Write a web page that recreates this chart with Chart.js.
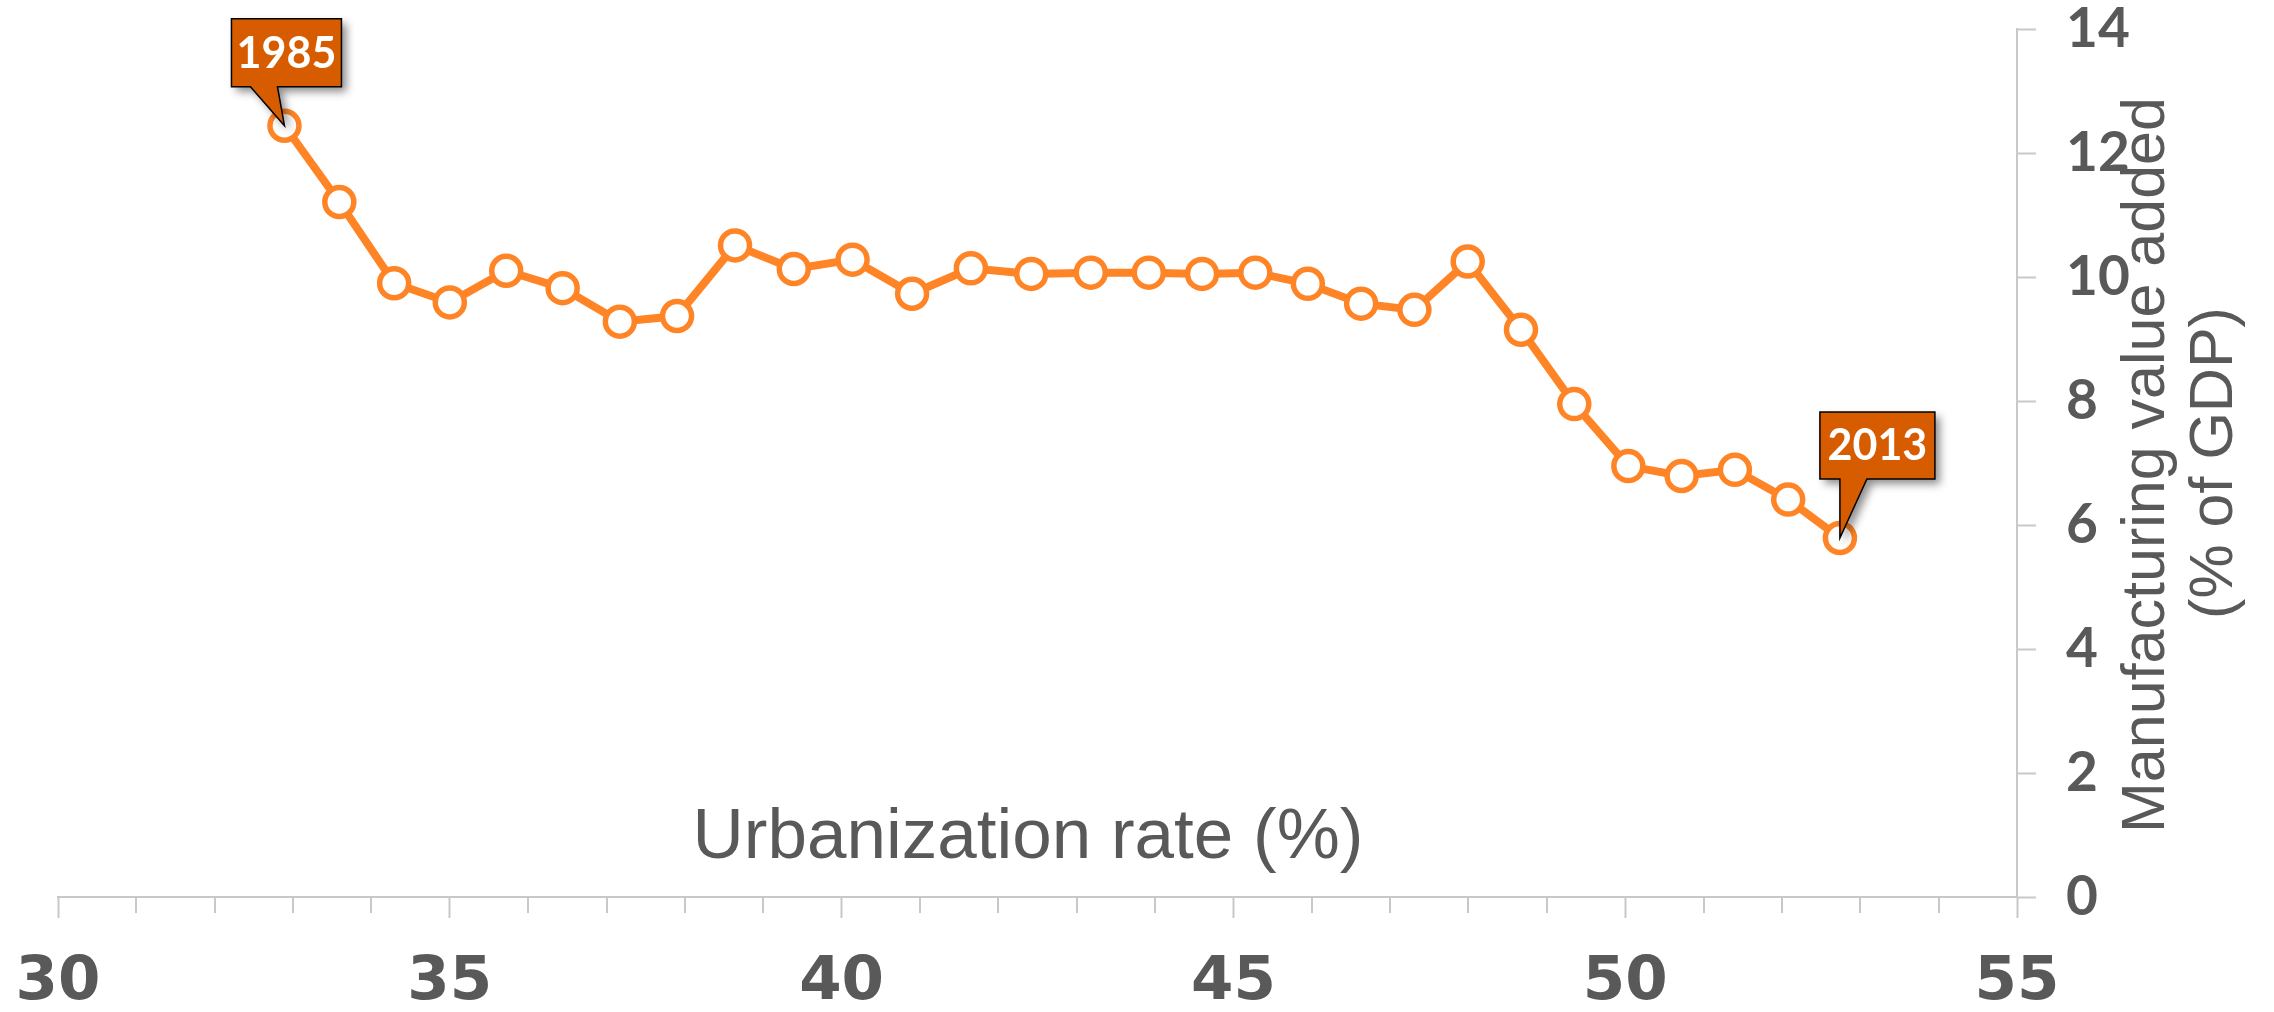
<!DOCTYPE html>
<html>
<head>
<meta charset="utf-8">
<script src="https://cdn.jsdelivr.net/npm/chart.js@4/dist/chart.umd.min.js"></script>
<style>
html,body{margin:0;padding:0;background:#ffffff;overflow:hidden;}
#wrap{width:2274px;height:1012px;position:relative;}
</style>
</head>
<body>
<div id="wrap"><canvas id="c" width="2274" height="1012"></canvas></div>
<script>
// ---- data ----
const years = [1985,1986,1987,1988,1989,1990,1991,1992,1993,1994,1995,1996,1997,1998,1999,2000,2001,2002,2003,2004,2005,2006,2007,2008,2009,2010,2011,2012,2013];
const urbanizationRate = [32.89,33.59,34.29,35.00,35.72,36.44,37.17,37.90,38.64,39.39,40.14,40.90,41.65,42.42,43.18,43.92,44.60,45.28,45.95,46.63,47.31,47.99,48.67,49.35,50.04,50.72,51.40,52.08,52.74];
const manufacturingShare = [12.44,11.21,9.90,9.59,10.10,9.82,9.28,9.37,10.51,10.13,10.28,9.73,10.14,10.05,10.07,10.07,10.05,10.07,9.89,9.57,9.47,10.25,9.15,7.95,6.95,6.79,6.89,6.41,5.79];
const xTickLabels = [30,35,40,45,50,55];
const yTickLabels = [0,2,4,6,8,10,12,14];
const calloutYears = [1985,2013];
const xAxisTitle = 'Urbanization rate (%)';
const yAxisTitle = ['Manufacturing value added','(% of GDP)'];

const TEXT = '#595959';
const AXIS = '#c8c8c8';
const LINE = '#FF8426';
const X_TICK_FONT = '"DejaVu Sans", Lato, sans-serif';
const Y_TICK_FONT = 'Lato, "Open Sans", sans-serif';

const points = urbanizationRate.map((x,i)=>({x:x, y:manufacturingShare[i]}));

// callout box geometry relative to the point (styling)
const calloutStyle = {
  1985: {l:-53, r:57, t:-107, b:-39, tl:-34, tr:-7},
  2013: {l:-20, r:95, t:-126, b:-59, tl:0, tr:27}
};

const decorPlugin = {
  id:'decor',
  afterDraw(chart){
    const ctx = chart.ctx;
    const xs = chart.scales.x, ys = chart.scales.y;
    const ca = chart.chartArea;
    // minor ticks on x axis
    ctx.save();
    ctx.strokeStyle = AXIS; ctx.lineWidth = 2;
    for (let v = xs.min; v <= xs.max; v++) {
      if (xTickLabels.includes(v)) continue;
      const px = Math.round(xs.getPixelForValue(v));
      ctx.beginPath(); ctx.moveTo(px, ca.bottom); ctx.lineTo(px, ca.bottom + 16); ctx.stroke();
    }
    ctx.restore();
    // x title
    ctx.save();
    ctx.fillStyle = TEXT;
    ctx.font = '71px "Liberation Sans", Arial, sans-serif';
    ctx.textAlign = 'center'; ctx.textBaseline = 'alphabetic';
    ctx.fillText(xAxisTitle, ca.left + 970, ca.bottom - 39);
    ctx.restore();
    // y title (reads bottom to top)
    const cy = (ca.top + ca.bottom) / 2;
    ctx.save();
    ctx.fillStyle = TEXT;
    ctx.font = '61px "Liberation Sans", Arial, sans-serif';
    ctx.textAlign = 'center'; ctx.textBaseline = 'alphabetic';
    ctx.translate(ys.left + 147, cy + 2); ctx.rotate(-Math.PI/2);
    ctx.fillText(yAxisTitle[0], 0, 0);
    ctx.restore();
    ctx.save();
    ctx.fillStyle = TEXT;
    ctx.font = '61px "Liberation Sans", Arial, sans-serif';
    ctx.textAlign = 'center'; ctx.textBaseline = 'alphabetic';
    ctx.translate(ys.left + 215, cy); ctx.rotate(-Math.PI/2);
    ctx.fillText(yAxisTitle[1], 0, 0);
    ctx.restore();
    // callouts
    const meta = chart.getDatasetMeta(0);
    calloutYears.forEach(yr => {
      const idx = years.indexOf(yr);
      const el = meta.data[idx];
      const s = calloutStyle[yr];
      const px = el.x, py = el.y;
      ctx.save();
      ctx.beginPath();
      ctx.moveTo(px + s.l, py + s.t);
      ctx.lineTo(px + s.r, py + s.t);
      ctx.lineTo(px + s.r, py + s.b);
      ctx.lineTo(px + s.tr, py + s.b);
      ctx.lineTo(px, py);
      ctx.lineTo(px + s.tl, py + s.b);
      ctx.lineTo(px + s.l, py + s.b);
      ctx.closePath();
      ctx.shadowColor = 'rgba(0,0,0,0.45)';
      ctx.shadowBlur = 9; ctx.shadowOffsetX = 5; ctx.shadowOffsetY = 5;
      ctx.fillStyle = '#D75C00';
      ctx.fill();
      ctx.shadowColor = 'rgba(0,0,0,0)';
      ctx.lineWidth = 1.5; ctx.strokeStyle = '#000000'; ctx.lineJoin = 'miter';
      ctx.stroke();
      ctx.fillStyle = '#ffffff';
      ctx.font = 'bold 43px Lato, "Open Sans", sans-serif';
      ctx.textAlign = 'center'; ctx.textBaseline = 'middle';
      ctx.fillText(String(yr), px + (s.l + s.r)/2, py + (s.t + s.b)/2 + 1);
      ctx.restore();
    });
  }
};

new Chart(document.getElementById('c'), {
  type:'line',
  data:{
    datasets:[{
      data: points,
      borderColor: LINE,
      borderWidth: 8,
      pointRadius: 14.5,
      pointBorderWidth: 5.5,
      pointBackgroundColor: '#ffffff',
      pointBorderColor: LINE,
      tension: 0,
      clip: false
    }]
  },
  options:{
    responsive:false,
    animation:false,
    devicePixelRatio:1,
    layout:{padding:{left:58, top:29, right:0, bottom:0}},
    plugins:{legend:{display:false}, tooltip:{enabled:false}, title:{display:false}},
    scales:{
      x:{
        type:'linear', position:'bottom', min:30, max:55,
        ticks:{
          stepSize:1, autoSkip:false, maxRotation:0, minRotation:0, padding:35,
          color:TEXT, font:{family:X_TICK_FONT, weight:'bold', size:61, lineHeight:1},
          callback:(v)=> xTickLabels.includes(v) ? String(v) : ''
        },
        grid:{display:true, drawOnChartArea:false, drawTicks:true, tickLength:21, tickWidth:2,
          tickColor:(c)=> (c.tick && xTickLabels.includes(c.tick.value)) ? AXIS : 'rgba(0,0,0,0)'},
        border:{display:true, color:AXIS, width:2},
        afterFit:(s)=>{ s.height = 115; s.paddingLeft = 0; s.paddingRight = 0; }
      },
      y:{
        type:'linear', position:'right', min:0, max:14,
        afterBuildTicks:(s)=>{ s.ticks = yTickLabels.map(v=>({value:v})); },
        ticks:{
          padding:30, color:TEXT,
          font:{family:Y_TICK_FONT, weight:'bold', size:55, lineHeight:1}
        },
        grid:{display:true, drawOnChartArea:false, drawTicks:true, tickLength:19, tickWidth:2, tickColor:AXIS},
        border:{display:true, color:AXIS, width:2},
        afterFit:(s)=>{ s.width = 257; s.paddingTop = 0; s.paddingBottom = 0; }
      }
    }
  },
  plugins:[decorPlugin]
});
</script>
</body>
</html>
